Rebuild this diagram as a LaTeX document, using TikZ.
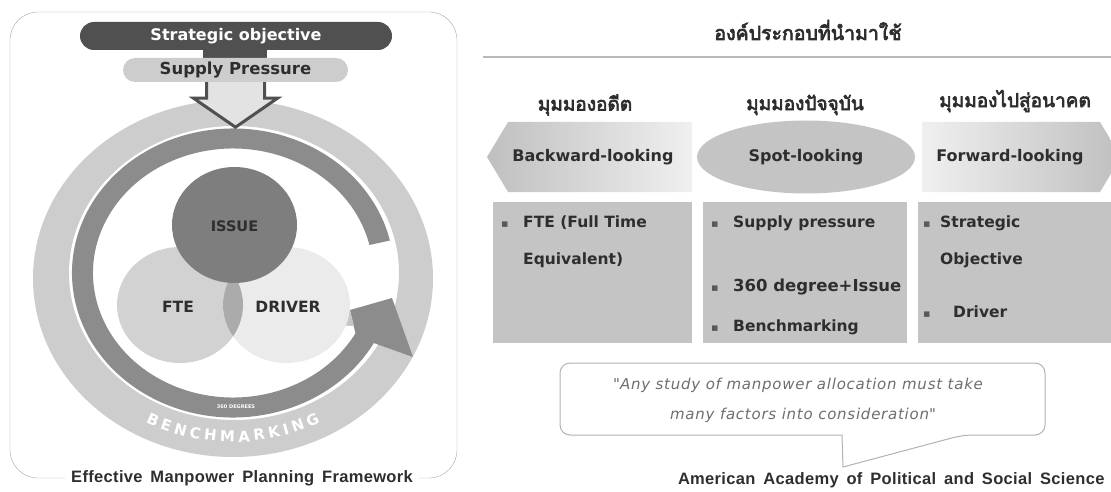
\documentclass[tikz,border=0pt]{standalone}
\usepackage{xcolor}
\usepackage{fontspec}
\setmainfont{DejaVu Sans}
\newfontfamily\capfont[LetterSpace=2, WordSpace=1.6]{Liberation Sans}
\newfontfamily\thaifont[Script=Thai, FakeBold=3.5]{Loma}
\usetikzlibrary{decorations.text, shapes.geometric}

\definecolor{bandgray}{HTML}{8C8C8C}
\definecolor{ringgray}{HTML}{CDCDCD}
\definecolor{issuegray}{HTML}{7E7E7E}
\definecolor{ftegray}{HTML}{D2D2D2}
\definecolor{drivergray}{HTML}{EBEBEB}
\definecolor{lensgray}{HTML}{ABABAB}
\definecolor{pilldark}{HTML}{505050}
\definecolor{boxgray}{HTML}{C4C4C4}
\definecolor{inkgray}{HTML}{2E2E2E}
\definecolor{quotegray}{HTML}{6E6E6E}

\newcommand{\boxbullet}[1][22pt]{\makebox[#1][l]{\fontsize{11}{11}\selectfont\textcolor{gray!70!black}{▪}}}

\begin{document}
\begin{tikzpicture}[x=1pt, y=-1pt,
    ringtext/.style={font=\bfseries\fontsize{15.5}{18}\selectfont, text=inkgray},
    shapetext/.style={font=\bfseries\fontsize{16}{18}\selectfont, text=inkgray},
    boxline/.style={anchor=west, inner sep=0pt, font=\bfseries\fontsize{15.5}{18}\selectfont, text=inkgray},
    thaihead/.style={font=\thaifont\fontsize{19}{22}\selectfont, text=inkgray},
    capline/.style={font=\capfont\bfseries\fontsize{16.5}{18}\selectfont, text=inkgray},
    quote/.style={font=\itshape\fontsize{15}{17}\selectfont\addfontfeatures{LetterSpace=5}, text=quotegray}]

    \useasboundingbox (0,0) rectangle (1111,492);
    \clip (0,0) rectangle (1111,492);

    % left panel frame
    \draw[gray!70] [rounded corners=28] (10,12) rectangle (457,478);
    \node[capline, fill=white, inner xsep=6pt] (framecap) at (242,478) {Effective Manpower Planning Framework};

    % benchmarking ring
    \fill[ringgray, even odd rule] (233,278.5) ellipse [x radius=200, y radius=178.5]
        (234,273) ellipse [x radius=165, y radius=147];
    \path[decorate, decoration={text along path, text align={fit to path}, text color=white,
        text={|\bfseries\fontsize{15}{15}\selectfont|BENCHMARKING}}]
        ([shift={(233,273)}]118:186 and 169) arc[start angle=118, end angle=62, x radius=186, y radius=169];

    % 360 degrees arrow
    \fill[bandgray] ([shift={(233,273)}]-13:161 and 144.5)
        arc[start angle=-13, end angle=-331, x radius=161, y radius=144.5]
        -- (413,357) -- (392,298) -- (350,310)
        -- ([shift={(233,273)}]-331:140 and 124.5)
        arc[start angle=-331, end angle=-13, x radius=140, y radius=124.5] -- cycle;
    \fill[gray!45] (327,318) -- (350,311) -- (354,326) -- (333,325) -- cycle;
    \node[text=white, font=\bfseries\fontsize{5}{5}\selectfont] (degrees) at (236,407) {360 DEGREES};

    % fte, driver, issue
    \fill[ftegray] (180,305) ellipse [x radius=63, y radius=58];
    \fill[drivergray] (286.5,305) ellipse [x radius=63.5, y radius=58];
    \begin{scope}
        \clip (180,305) ellipse [x radius=63, y radius=58];
        \fill[lensgray] (286.5,305) ellipse [x radius=63.5, y radius=58];
    \end{scope}
    \fill[issuegray] (234.5,225) ellipse [x radius=62.5, y radius=58];
    \node[ringtext, font=\bfseries\fontsize{14.5}{16}\selectfont] (issue) at (234.5,226) {ISSUE};
    \node[ringtext] (fte) at (178,307) {FTE};
    \node[ringtext] (driver) at (288,307) {DRIVER};

    % objective and supply pressure
    \fill[pilldark] (203,46) rectangle (267,62);
    \node[fill=pilldark, rounded corners=14, minimum width=312, minimum height=28, inner sep=0pt,
        text=white, font=\bfseries\fontsize{16}{18}\selectfont] (objective) at (236,36) {Strategic objective};
    \node[fill=ringgray, rounded corners=12, minimum width=225, minimum height=24, inner sep=0pt,
        shapetext, font=\bfseries\fontsize{16.5}{18}\selectfont] (supply) at (235.5,70) {Supply Pressure};
    \filldraw[fill=gray!22, draw=pilldark, line width=3, line join=miter]
        ([xshift=-29pt]supply.south) -- ++(0,16) -- ++(-13,0) -- ++(42,29) -- ++(42,-29) -- ++(-13,0) -- ++(0,-16);

    % right panel heading
    \node[thaihead, font=\thaifont\fontsize{19.5}{24}\selectfont] (title) at (808,30) {องค์ประกอบที่นำมาใช้};
    \draw[gray!55, line width=2] (483,57) -- (1111,57);

    \node[thaihead] (pasthead) at (585,105) {มุมมองอดีต};
    \node[thaihead] (nowhead) at (805,105) {มุมมองปัจจุบัน};
    \node[thaihead] (futurehead) at (1015,101) {มุมมองไปสู่อนาคต};

    % backward, spot, forward
    \shade[left color=gray!50, right color=gray!12] (487,157) -- (508,122) -- (692,122) -- (692,192) -- (508,192) -- cycle;
    \node[shapetext] (backward) at (593,157) {Backward-looking};
    \node[ellipse, fill=boxgray, minimum width=218, minimum height=73, inner sep=0pt, shapetext] (spot) at (806,157) {Spot-looking};
    \shade[left color=gray!12, right color=gray!50] (922,122) -- (1100,122) -- (1121,157) -- (1100,192) -- (922,192) -- cycle;
    \node[shapetext] (forward) at (1010,157) {Forward-looking};

    % three boxes
    \fill[boxgray] (493,202) rectangle (692,343);
    \fill[boxgray] (703,202) rectangle (907,343);
    \fill[boxgray] (918,202) rectangle (1115,343);

    \node[boxline] (pastA) at (501,223) {\boxbullet FTE (Full Time};
    \node[boxline] (pastB) at (523,260) {Equivalent)};
    \node[boxline] (nowA) at (711,223) {\boxbullet Supply pressure};
    \node[boxline, font=\bfseries\fontsize{16.5}{18}\selectfont] (nowB) at (711,287) {\boxbullet 360 degree+Issue};
    \node[boxline] (nowC) at (711,327) {\boxbullet Benchmarking};
    \node[boxline] (futureA) at (923,223) {\boxbullet[17pt]Strategic};
    \node[boxline] (futureB) at (940,260) {Objective};
    \node[boxline] (futureC) at (923,312) {\boxbullet[30pt]Driver};

    % quote callout
    \draw[gray!60, fill=white, line width=1] (842,435) [rounded corners=10] -- (560,435) -- (560,363)
        -- (1045,363) -- (1045,435) -- (963,435) [sharp corners] -- (843,467) -- cycle;
    \node[quote] (quoteA) at (798,385) {\textquotedbl Any study of manpower allocation must take};
    \node[quote] (quoteB) at (803,415) {many factors into consideration\textquotedbl};
    \node[capline, anchor=east] (source) at (1108,480) {American Academy of Political and Social Science};
\end{tikzpicture}
\end{document}
